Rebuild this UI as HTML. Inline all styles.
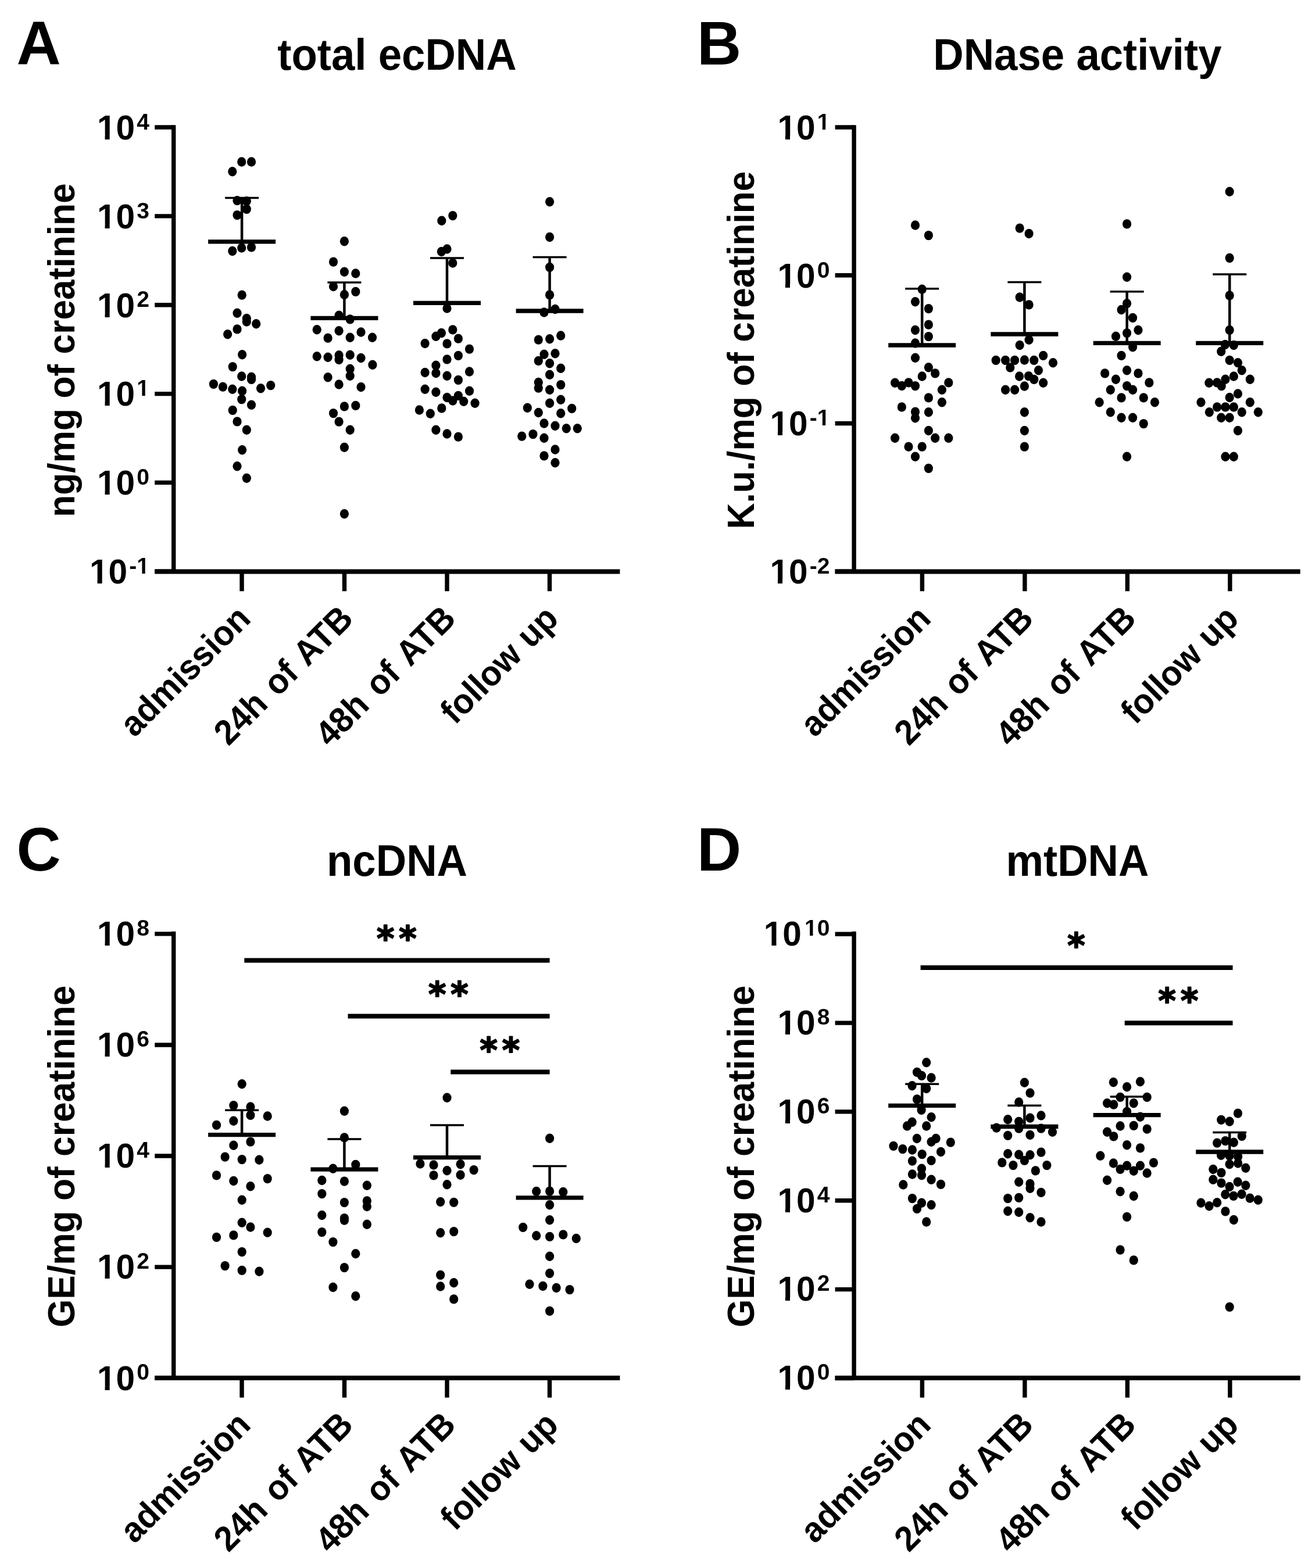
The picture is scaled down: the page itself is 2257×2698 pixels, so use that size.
<!DOCTYPE html>
<html lang="en"><head><meta charset="utf-8"><title>Figure</title>
<style>html,body{margin:0;padding:0;background:#fff}svg{display:block}text{font-family:"Liberation Sans",Arial,sans-serif;font-weight:bold;fill:#000}</style>
</head><body>
<svg width="2257" height="2698" viewBox="0 0 2257 2698">
<rect width="2257" height="2698" fill="#fff"/>
<text x="28.5" y="111.0" font-size="105.5">A</text>
<text transform="translate(683.0 119.5) scale(1 1.05)" font-size="72.6" text-anchor="middle">total ecDNA</text>
<path d="M298.7 215.3V987.0" stroke="#000" stroke-width="7.4" fill="none"/>
<path d="M266.2 983.6H1066.4" stroke="#000" stroke-width="8" fill="none"/>
<path d="M266.2 219.0H298.7M266.2 371.9H298.7M266.2 524.7H298.7M266.2 677.6H298.7M266.2 830.4H298.7M266.2 983.3H298.7M416.0 983.3V1017.3M592.5 983.3V1017.3M769.0 983.3V1017.3M945.5 983.3V1017.3" stroke="#000" stroke-width="7.4" fill="none"/>
<text x="167.0" y="239.8" font-size="58.5">10</text>
<text x="235.3" y="222.7" font-size="39.0">4</text>
<text x="167.0" y="392.7" font-size="58.5">10</text>
<text x="235.3" y="375.6" font-size="39.0">3</text>
<text x="167.0" y="545.5" font-size="58.5">10</text>
<text x="235.3" y="528.4" font-size="39.0">2</text>
<text x="167.0" y="698.4" font-size="58.5">10</text>
<text x="235.3" y="681.3" font-size="39.0">1</text>
<text x="167.0" y="851.2" font-size="58.5">10</text>
<text x="235.3" y="834.1" font-size="39.0">0</text>
<text x="154.0" y="1004.1" font-size="58.5">10</text>
<text x="222.3" y="987.0" font-size="39.0">-1</text>
<text transform="translate(128.2 602.5) rotate(-90) scale(1 1.04)" font-size="62.3" text-anchor="middle">ng/mg of creatinine</text>
<text transform="translate(434.0 1067.6) rotate(-45) scale(1 1.04)" font-size="58" text-anchor="end" style="word-spacing:0px">admission</text>
<text transform="translate(610.5 1067.6) rotate(-45) scale(1 1.04)" font-size="58" text-anchor="end" style="word-spacing:4px">24h of ATB</text>
<text transform="translate(787.0 1067.6) rotate(-45) scale(1 1.04)" font-size="58" text-anchor="end" style="word-spacing:5.5px">48h of ATB</text>
<text transform="translate(963.5 1067.6) rotate(-45) scale(1 1.04)" font-size="58" text-anchor="end" style="word-spacing:1.5px">follow up</text>
<ellipse cx="415.7" cy="278.5" rx="7.6" ry="8.2"/>
<ellipse cx="432.5" cy="278.5" rx="7.6" ry="8.2"/>
<ellipse cx="399.8" cy="295.3" rx="7.6" ry="8.2"/>
<ellipse cx="408.0" cy="345.1" rx="7.6" ry="8.2"/>
<ellipse cx="424.3" cy="346.1" rx="7.6" ry="8.2"/>
<ellipse cx="424.3" cy="359.9" rx="7.6" ry="8.2"/>
<ellipse cx="408.0" cy="370.1" rx="7.6" ry="8.2"/>
<ellipse cx="415.7" cy="426.5" rx="7.6" ry="8.2"/>
<ellipse cx="432.5" cy="425.4" rx="7.6" ry="8.2"/>
<ellipse cx="399.8" cy="432.0" rx="7.6" ry="8.2"/>
<ellipse cx="416.2" cy="507.6" rx="7.6" ry="8.2"/>
<ellipse cx="408.0" cy="538.7" rx="7.6" ry="8.2"/>
<ellipse cx="424.3" cy="548.0" rx="7.6" ry="8.2"/>
<ellipse cx="424.3" cy="553.5" rx="7.6" ry="8.2"/>
<ellipse cx="440.7" cy="557.2" rx="7.6" ry="8.2"/>
<ellipse cx="408.0" cy="566.4" rx="7.6" ry="8.2"/>
<ellipse cx="391.6" cy="575.2" rx="7.6" ry="8.2"/>
<ellipse cx="416.6" cy="610.2" rx="7.6" ry="8.2"/>
<ellipse cx="400.2" cy="631.1" rx="7.6" ry="8.2"/>
<ellipse cx="415.7" cy="647.5" rx="7.6" ry="8.2"/>
<ellipse cx="432.5" cy="648.8" rx="7.6" ry="8.2"/>
<ellipse cx="432.5" cy="652.9" rx="7.6" ry="8.2"/>
<ellipse cx="367.4" cy="660.9" rx="7.6" ry="8.2"/>
<ellipse cx="383.4" cy="665.6" rx="7.6" ry="8.2"/>
<ellipse cx="399.8" cy="669.7" rx="7.6" ry="8.2"/>
<ellipse cx="416.6" cy="672.7" rx="7.6" ry="8.2"/>
<ellipse cx="415.7" cy="687.1" rx="7.6" ry="8.2"/>
<ellipse cx="448.5" cy="668.2" rx="7.6" ry="8.2"/>
<ellipse cx="465.7" cy="663.1" rx="7.6" ry="8.2"/>
<ellipse cx="432.5" cy="696.7" rx="7.6" ry="8.2"/>
<ellipse cx="400.2" cy="705.9" rx="7.6" ry="8.2"/>
<ellipse cx="408.0" cy="725.4" rx="7.6" ry="8.2"/>
<ellipse cx="424.3" cy="739.7" rx="7.6" ry="8.2"/>
<ellipse cx="416.6" cy="774.2" rx="7.6" ry="8.2"/>
<ellipse cx="408.0" cy="802.2" rx="7.6" ry="8.2"/>
<ellipse cx="424.3" cy="822.7" rx="7.6" ry="8.2"/>
<ellipse cx="592.4" cy="415.2" rx="7.6" ry="8.2"/>
<ellipse cx="573.5" cy="450.6" rx="7.6" ry="8.2"/>
<ellipse cx="592.4" cy="467.8" rx="7.6" ry="8.2"/>
<ellipse cx="611.8" cy="470.5" rx="7.6" ry="8.2"/>
<ellipse cx="573.5" cy="493.0" rx="7.6" ry="8.2"/>
<ellipse cx="611.8" cy="501.9" rx="7.6" ry="8.2"/>
<ellipse cx="592.4" cy="507.0" rx="7.6" ry="8.2"/>
<ellipse cx="583.1" cy="542.8" rx="7.6" ry="8.2"/>
<ellipse cx="602.2" cy="549.4" rx="7.6" ry="8.2"/>
<ellipse cx="545.2" cy="567.2" rx="7.6" ry="8.2"/>
<ellipse cx="583.1" cy="569.3" rx="7.6" ry="8.2"/>
<ellipse cx="621.0" cy="571.5" rx="7.6" ry="8.2"/>
<ellipse cx="564.1" cy="581.6" rx="7.6" ry="8.2"/>
<ellipse cx="602.2" cy="580.7" rx="7.6" ry="8.2"/>
<ellipse cx="640.5" cy="580.7" rx="7.6" ry="8.2"/>
<ellipse cx="545.2" cy="613.3" rx="7.6" ry="8.2"/>
<ellipse cx="564.1" cy="614.8" rx="7.6" ry="8.2"/>
<ellipse cx="583.1" cy="611.3" rx="7.6" ry="8.2"/>
<ellipse cx="583.1" cy="618.9" rx="7.6" ry="8.2"/>
<ellipse cx="602.2" cy="610.7" rx="7.6" ry="8.2"/>
<ellipse cx="621.0" cy="616.0" rx="7.6" ry="8.2"/>
<ellipse cx="640.9" cy="627.7" rx="7.6" ry="8.2"/>
<ellipse cx="602.2" cy="634.8" rx="7.6" ry="8.2"/>
<ellipse cx="602.2" cy="646.7" rx="7.6" ry="8.2"/>
<ellipse cx="564.1" cy="649.2" rx="7.6" ry="8.2"/>
<ellipse cx="583.1" cy="661.5" rx="7.6" ry="8.2"/>
<ellipse cx="621.0" cy="666.0" rx="7.6" ry="8.2"/>
<ellipse cx="592.4" cy="699.4" rx="7.6" ry="8.2"/>
<ellipse cx="611.8" cy="697.9" rx="7.6" ry="8.2"/>
<ellipse cx="573.5" cy="711.1" rx="7.6" ry="8.2"/>
<ellipse cx="583.1" cy="725.6" rx="7.6" ry="8.2"/>
<ellipse cx="602.2" cy="739.7" rx="7.6" ry="8.2"/>
<ellipse cx="592.4" cy="769.7" rx="7.6" ry="8.2"/>
<ellipse cx="592.4" cy="884.2" rx="7.6" ry="8.2"/>
<ellipse cx="759.8" cy="379.7" rx="7.6" ry="8.2"/>
<ellipse cx="778.8" cy="371.1" rx="7.6" ry="8.2"/>
<ellipse cx="769.0" cy="428.5" rx="7.6" ry="8.2"/>
<ellipse cx="759.4" cy="433.0" rx="7.6" ry="8.2"/>
<ellipse cx="778.8" cy="452.5" rx="7.6" ry="8.2"/>
<ellipse cx="769.0" cy="530.5" rx="7.6" ry="8.2"/>
<ellipse cx="778.8" cy="567.4" rx="7.6" ry="8.2"/>
<ellipse cx="759.4" cy="573.0" rx="7.6" ry="8.2"/>
<ellipse cx="749.9" cy="578.7" rx="7.6" ry="8.2"/>
<ellipse cx="788.4" cy="582.6" rx="7.6" ry="8.2"/>
<ellipse cx="731.1" cy="591.0" rx="7.6" ry="8.2"/>
<ellipse cx="769.0" cy="591.4" rx="7.6" ry="8.2"/>
<ellipse cx="807.5" cy="600.6" rx="7.6" ry="8.2"/>
<ellipse cx="788.4" cy="611.9" rx="7.6" ry="8.2"/>
<ellipse cx="769.0" cy="618.4" rx="7.6" ry="8.2"/>
<ellipse cx="749.9" cy="628.7" rx="7.6" ry="8.2"/>
<ellipse cx="749.9" cy="642.0" rx="7.6" ry="8.2"/>
<ellipse cx="731.1" cy="641.0" rx="7.6" ry="8.2"/>
<ellipse cx="807.5" cy="639.5" rx="7.6" ry="8.2"/>
<ellipse cx="769.0" cy="646.7" rx="7.6" ry="8.2"/>
<ellipse cx="788.4" cy="653.9" rx="7.6" ry="8.2"/>
<ellipse cx="731.1" cy="669.7" rx="7.6" ry="8.2"/>
<ellipse cx="749.9" cy="674.8" rx="7.6" ry="8.2"/>
<ellipse cx="807.5" cy="672.7" rx="7.6" ry="8.2"/>
<ellipse cx="769.0" cy="684.0" rx="7.6" ry="8.2"/>
<ellipse cx="778.8" cy="689.5" rx="7.6" ry="8.2"/>
<ellipse cx="788.4" cy="680.9" rx="7.6" ry="8.2"/>
<ellipse cx="797.7" cy="690.8" rx="7.6" ry="8.2"/>
<ellipse cx="817.1" cy="693.8" rx="7.6" ry="8.2"/>
<ellipse cx="721.4" cy="705.5" rx="7.6" ry="8.2"/>
<ellipse cx="740.3" cy="711.7" rx="7.6" ry="8.2"/>
<ellipse cx="759.8" cy="702.4" rx="7.6" ry="8.2"/>
<ellipse cx="749.9" cy="739.7" rx="7.6" ry="8.2"/>
<ellipse cx="769.0" cy="746.5" rx="7.6" ry="8.2"/>
<ellipse cx="788.4" cy="751.6" rx="7.6" ry="8.2"/>
<ellipse cx="945.6" cy="347.2" rx="7.6" ry="8.2"/>
<ellipse cx="945.6" cy="408.0" rx="7.6" ry="8.2"/>
<ellipse cx="945.6" cy="459.9" rx="7.6" ry="8.2"/>
<ellipse cx="945.6" cy="507.4" rx="7.6" ry="8.2"/>
<ellipse cx="955.0" cy="532.0" rx="7.6" ry="8.2"/>
<ellipse cx="936.0" cy="537.5" rx="7.6" ry="8.2"/>
<ellipse cx="964.7" cy="577.5" rx="7.6" ry="8.2"/>
<ellipse cx="945.6" cy="583.2" rx="7.6" ry="8.2"/>
<ellipse cx="926.3" cy="584.6" rx="7.6" ry="8.2"/>
<ellipse cx="936.0" cy="609.8" rx="7.6" ry="8.2"/>
<ellipse cx="955.0" cy="608.2" rx="7.6" ry="8.2"/>
<ellipse cx="926.3" cy="620.9" rx="7.6" ry="8.2"/>
<ellipse cx="945.6" cy="625.2" rx="7.6" ry="8.2"/>
<ellipse cx="964.7" cy="633.8" rx="7.6" ry="8.2"/>
<ellipse cx="945.6" cy="644.7" rx="7.6" ry="8.2"/>
<ellipse cx="926.3" cy="658.0" rx="7.6" ry="8.2"/>
<ellipse cx="926.3" cy="667.6" rx="7.6" ry="8.2"/>
<ellipse cx="964.7" cy="662.1" rx="7.6" ry="8.2"/>
<ellipse cx="945.6" cy="670.7" rx="7.6" ry="8.2"/>
<ellipse cx="964.7" cy="687.7" rx="7.6" ry="8.2"/>
<ellipse cx="945.6" cy="693.8" rx="7.6" ry="8.2"/>
<ellipse cx="907.3" cy="701.8" rx="7.6" ry="8.2"/>
<ellipse cx="926.3" cy="710.0" rx="7.6" ry="8.2"/>
<ellipse cx="964.7" cy="711.3" rx="7.6" ry="8.2"/>
<ellipse cx="983.7" cy="702.9" rx="7.6" ry="8.2"/>
<ellipse cx="936.0" cy="728.5" rx="7.6" ry="8.2"/>
<ellipse cx="955.0" cy="732.8" rx="7.6" ry="8.2"/>
<ellipse cx="974.3" cy="737.3" rx="7.6" ry="8.2"/>
<ellipse cx="993.3" cy="737.3" rx="7.6" ry="8.2"/>
<ellipse cx="897.7" cy="750.6" rx="7.6" ry="8.2"/>
<ellipse cx="916.9" cy="747.1" rx="7.6" ry="8.2"/>
<ellipse cx="936.0" cy="753.7" rx="7.6" ry="8.2"/>
<ellipse cx="955.0" cy="773.5" rx="7.6" ry="8.2"/>
<ellipse cx="936.0" cy="784.4" rx="7.6" ry="8.2"/>
<ellipse cx="955.0" cy="796.3" rx="7.6" ry="8.2"/>
<path d="M358.1 415.8H474.1" stroke="#000" stroke-width="7.3" fill="none"/>
<path d="M416.1 415.8V340.4" stroke="#000" stroke-width="4.5" fill="none"/>
<path d="M387.1 340.4H445.1" stroke="#000" stroke-width="3.5" fill="none"/>
<path d="M534.4 547.3H650.4" stroke="#000" stroke-width="7.3" fill="none"/>
<path d="M592.4 547.3V485.9" stroke="#000" stroke-width="4.5" fill="none"/>
<path d="M563.4 485.9H621.4" stroke="#000" stroke-width="3.5" fill="none"/>
<path d="M711.0 521.3H827.0" stroke="#000" stroke-width="7.3" fill="none"/>
<path d="M769.0 521.3V443.9" stroke="#000" stroke-width="4.5" fill="none"/>
<path d="M740.0 443.9H798.0" stroke="#000" stroke-width="3.5" fill="none"/>
<path d="M887.6 535.0H1003.6" stroke="#000" stroke-width="7.3" fill="none"/>
<path d="M945.6 535.0V442.4" stroke="#000" stroke-width="4.5" fill="none"/>
<path d="M916.6 442.4H974.6" stroke="#000" stroke-width="3.5" fill="none"/>
<text x="1198.9" y="111.0" font-size="105.5">B</text>
<text transform="translate(1853.4 119.5) scale(1 1.05)" font-size="72.6" text-anchor="middle">DNase activity</text>
<path d="M1469.1 215.3V987.0" stroke="#000" stroke-width="7.4" fill="none"/>
<path d="M1436.6 983.6H2236.8" stroke="#000" stroke-width="8" fill="none"/>
<path d="M1436.6 219.0H1469.1M1436.6 473.8H1469.1M1436.6 728.5H1469.1M1436.6 983.3H1469.1M1586.4 983.3V1017.3M1762.9 983.3V1017.3M1939.4 983.3V1017.3M2115.9 983.3V1017.3" stroke="#000" stroke-width="7.4" fill="none"/>
<text x="1337.4" y="239.8" font-size="58.5">10</text>
<text x="1405.7" y="222.7" font-size="39.0">1</text>
<text x="1337.4" y="494.6" font-size="58.5">10</text>
<text x="1405.7" y="477.5" font-size="39.0">0</text>
<text x="1324.4" y="749.3" font-size="58.5">10</text>
<text x="1392.7" y="732.2" font-size="39.0">-1</text>
<text x="1324.4" y="1004.1" font-size="58.5">10</text>
<text x="1392.7" y="987.0" font-size="39.0">-2</text>
<text transform="translate(1297.0 602.5) rotate(-90) scale(1 1.04)" font-size="62.3" text-anchor="middle">K.u./mg of creatinine</text>
<text transform="translate(1604.4 1067.6) rotate(-45) scale(1 1.04)" font-size="58" text-anchor="end" style="word-spacing:0px">admission</text>
<text transform="translate(1780.9 1067.6) rotate(-45) scale(1 1.04)" font-size="58" text-anchor="end" style="word-spacing:4px">24h of ATB</text>
<text transform="translate(1957.4 1067.6) rotate(-45) scale(1 1.04)" font-size="58" text-anchor="end" style="word-spacing:5.5px">48h of ATB</text>
<text transform="translate(2133.9 1067.6) rotate(-45) scale(1 1.04)" font-size="58" text-anchor="end" style="word-spacing:1.5px">follow up</text>
<ellipse cx="1574.5" cy="387.5" rx="7.6" ry="8.2"/>
<ellipse cx="1597.4" cy="405.1" rx="7.6" ry="8.2"/>
<ellipse cx="1586.2" cy="497.7" rx="7.6" ry="8.2"/>
<ellipse cx="1574.5" cy="519.2" rx="7.6" ry="8.2"/>
<ellipse cx="1597.4" cy="531.1" rx="7.6" ry="8.2"/>
<ellipse cx="1597.4" cy="558.6" rx="7.6" ry="8.2"/>
<ellipse cx="1574.5" cy="568.0" rx="7.6" ry="8.2"/>
<ellipse cx="1597.4" cy="579.1" rx="7.6" ry="8.2"/>
<ellipse cx="1574.5" cy="590.5" rx="7.6" ry="8.2"/>
<ellipse cx="1574.5" cy="615.8" rx="7.6" ry="8.2"/>
<ellipse cx="1597.4" cy="632.2" rx="7.6" ry="8.2"/>
<ellipse cx="1608.7" cy="642.4" rx="7.6" ry="8.2"/>
<ellipse cx="1586.2" cy="647.5" rx="7.6" ry="8.2"/>
<ellipse cx="1539.6" cy="658.8" rx="7.6" ry="8.2"/>
<ellipse cx="1551.3" cy="663.9" rx="7.6" ry="8.2"/>
<ellipse cx="1563.0" cy="658.4" rx="7.6" ry="8.2"/>
<ellipse cx="1574.5" cy="664.1" rx="7.6" ry="8.2"/>
<ellipse cx="1631.8" cy="658.4" rx="7.6" ry="8.2"/>
<ellipse cx="1620.4" cy="670.7" rx="7.6" ry="8.2"/>
<ellipse cx="1597.4" cy="684.4" rx="7.6" ry="8.2"/>
<ellipse cx="1620.4" cy="692.2" rx="7.6" ry="8.2"/>
<ellipse cx="1551.3" cy="700.4" rx="7.6" ry="8.2"/>
<ellipse cx="1574.5" cy="708.6" rx="7.6" ry="8.2"/>
<ellipse cx="1574.5" cy="719.2" rx="7.6" ry="8.2"/>
<ellipse cx="1597.4" cy="709.2" rx="7.6" ry="8.2"/>
<ellipse cx="1597.4" cy="741.0" rx="7.6" ry="8.2"/>
<ellipse cx="1608.7" cy="753.7" rx="7.6" ry="8.2"/>
<ellipse cx="1631.8" cy="753.7" rx="7.6" ry="8.2"/>
<ellipse cx="1539.6" cy="753.7" rx="7.6" ry="8.2"/>
<ellipse cx="1563.0" cy="768.6" rx="7.6" ry="8.2"/>
<ellipse cx="1586.2" cy="768.6" rx="7.6" ry="8.2"/>
<ellipse cx="1574.5" cy="785.8" rx="7.6" ry="8.2"/>
<ellipse cx="1597.4" cy="805.9" rx="7.6" ry="8.2"/>
<ellipse cx="1754.2" cy="392.6" rx="7.6" ry="8.2"/>
<ellipse cx="1770.1" cy="402.0" rx="7.6" ry="8.2"/>
<ellipse cx="1754.2" cy="511.5" rx="7.6" ry="8.2"/>
<ellipse cx="1770.1" cy="524.4" rx="7.6" ry="8.2"/>
<ellipse cx="1770.1" cy="584.8" rx="7.6" ry="8.2"/>
<ellipse cx="1754.2" cy="594.0" rx="7.6" ry="8.2"/>
<ellipse cx="1713.2" cy="619.9" rx="7.6" ry="8.2"/>
<ellipse cx="1729.6" cy="619.9" rx="7.6" ry="8.2"/>
<ellipse cx="1745.6" cy="619.9" rx="7.6" ry="8.2"/>
<ellipse cx="1762.4" cy="619.5" rx="7.6" ry="8.2"/>
<ellipse cx="1778.8" cy="619.9" rx="7.6" ry="8.2"/>
<ellipse cx="1794.7" cy="611.9" rx="7.6" ry="8.2"/>
<ellipse cx="1811.5" cy="624.2" rx="7.6" ry="8.2"/>
<ellipse cx="1737.8" cy="632.4" rx="7.6" ry="8.2"/>
<ellipse cx="1786.5" cy="637.3" rx="7.6" ry="8.2"/>
<ellipse cx="1753.6" cy="647.5" rx="7.6" ry="8.2"/>
<ellipse cx="1769.5" cy="647.1" rx="7.6" ry="8.2"/>
<ellipse cx="1778.8" cy="652.9" rx="7.6" ry="8.2"/>
<ellipse cx="1794.7" cy="658.8" rx="7.6" ry="8.2"/>
<ellipse cx="1762.4" cy="664.5" rx="7.6" ry="8.2"/>
<ellipse cx="1729.6" cy="670.7" rx="7.6" ry="8.2"/>
<ellipse cx="1745.6" cy="670.7" rx="7.6" ry="8.2"/>
<ellipse cx="1762.4" cy="709.2" rx="7.6" ry="8.2"/>
<ellipse cx="1762.4" cy="741.0" rx="7.6" ry="8.2"/>
<ellipse cx="1762.4" cy="768.6" rx="7.6" ry="8.2"/>
<ellipse cx="1938.6" cy="385.4" rx="7.6" ry="8.2"/>
<ellipse cx="1938.6" cy="476.8" rx="7.6" ry="8.2"/>
<ellipse cx="1938.6" cy="522.3" rx="7.6" ry="8.2"/>
<ellipse cx="1929.1" cy="533.0" rx="7.6" ry="8.2"/>
<ellipse cx="1948.6" cy="546.9" rx="7.6" ry="8.2"/>
<ellipse cx="1958.0" cy="568.0" rx="7.6" ry="8.2"/>
<ellipse cx="1938.6" cy="573.1" rx="7.6" ry="8.2"/>
<ellipse cx="1919.5" cy="578.7" rx="7.6" ry="8.2"/>
<ellipse cx="1948.6" cy="597.1" rx="7.6" ry="8.2"/>
<ellipse cx="1929.1" cy="611.9" rx="7.6" ry="8.2"/>
<ellipse cx="1938.6" cy="637.3" rx="7.6" ry="8.2"/>
<ellipse cx="1900.7" cy="642.4" rx="7.6" ry="8.2"/>
<ellipse cx="1958.0" cy="642.4" rx="7.6" ry="8.2"/>
<ellipse cx="1919.5" cy="652.7" rx="7.6" ry="8.2"/>
<ellipse cx="1976.9" cy="658.4" rx="7.6" ry="8.2"/>
<ellipse cx="1938.6" cy="664.1" rx="7.6" ry="8.2"/>
<ellipse cx="1948.6" cy="670.7" rx="7.6" ry="8.2"/>
<ellipse cx="1910.3" cy="670.7" rx="7.6" ry="8.2"/>
<ellipse cx="1929.1" cy="684.4" rx="7.6" ry="8.2"/>
<ellipse cx="1967.3" cy="684.4" rx="7.6" ry="8.2"/>
<ellipse cx="1891.2" cy="692.2" rx="7.6" ry="8.2"/>
<ellipse cx="1986.5" cy="692.2" rx="7.6" ry="8.2"/>
<ellipse cx="1910.3" cy="709.2" rx="7.6" ry="8.2"/>
<ellipse cx="1929.1" cy="718.8" rx="7.6" ry="8.2"/>
<ellipse cx="1948.6" cy="718.8" rx="7.6" ry="8.2"/>
<ellipse cx="1967.3" cy="729.1" rx="7.6" ry="8.2"/>
<ellipse cx="1938.6" cy="785.8" rx="7.6" ry="8.2"/>
<ellipse cx="2115.2" cy="329.7" rx="7.6" ry="8.2"/>
<ellipse cx="2115.2" cy="444.0" rx="7.6" ry="8.2"/>
<ellipse cx="2115.2" cy="508.4" rx="7.6" ry="8.2"/>
<ellipse cx="2115.2" cy="568.0" rx="7.6" ry="8.2"/>
<ellipse cx="2107.6" cy="593.0" rx="7.6" ry="8.2"/>
<ellipse cx="2122.4" cy="594.0" rx="7.6" ry="8.2"/>
<ellipse cx="2100.8" cy="604.7" rx="7.6" ry="8.2"/>
<ellipse cx="2115.2" cy="619.9" rx="7.6" ry="8.2"/>
<ellipse cx="2129.5" cy="624.2" rx="7.6" ry="8.2"/>
<ellipse cx="2136.3" cy="637.3" rx="7.6" ry="8.2"/>
<ellipse cx="2122.4" cy="647.5" rx="7.6" ry="8.2"/>
<ellipse cx="2108.0" cy="652.7" rx="7.6" ry="8.2"/>
<ellipse cx="2150.4" cy="652.7" rx="7.6" ry="8.2"/>
<ellipse cx="2079.9" cy="658.8" rx="7.6" ry="8.2"/>
<ellipse cx="2093.7" cy="658.4" rx="7.6" ry="8.2"/>
<ellipse cx="2101.3" cy="664.1" rx="7.6" ry="8.2"/>
<ellipse cx="2129.5" cy="677.5" rx="7.6" ry="8.2"/>
<ellipse cx="2115.2" cy="684.0" rx="7.6" ry="8.2"/>
<ellipse cx="2066.0" cy="692.2" rx="7.6" ry="8.2"/>
<ellipse cx="2150.4" cy="692.2" rx="7.6" ry="8.2"/>
<ellipse cx="2093.7" cy="700.4" rx="7.6" ry="8.2"/>
<ellipse cx="2108.0" cy="700.4" rx="7.6" ry="8.2"/>
<ellipse cx="2122.4" cy="700.4" rx="7.6" ry="8.2"/>
<ellipse cx="2080.4" cy="709.2" rx="7.6" ry="8.2"/>
<ellipse cx="2136.3" cy="709.2" rx="7.6" ry="8.2"/>
<ellipse cx="2164.4" cy="709.2" rx="7.6" ry="8.2"/>
<ellipse cx="2100.8" cy="718.8" rx="7.6" ry="8.2"/>
<ellipse cx="2115.2" cy="718.8" rx="7.6" ry="8.2"/>
<ellipse cx="2129.5" cy="741.0" rx="7.6" ry="8.2"/>
<ellipse cx="2108.0" cy="785.8" rx="7.6" ry="8.2"/>
<ellipse cx="2122.4" cy="785.8" rx="7.6" ry="8.2"/>
<path d="M1528.2 594.0H1644.2" stroke="#000" stroke-width="7.3" fill="none"/>
<path d="M1586.2 594.0V496.7" stroke="#000" stroke-width="4.5" fill="none"/>
<path d="M1557.2 496.7H1615.2" stroke="#000" stroke-width="3.5" fill="none"/>
<path d="M1704.4 575.0H1820.4" stroke="#000" stroke-width="7.3" fill="none"/>
<path d="M1762.4 575.0V485.4" stroke="#000" stroke-width="4.5" fill="none"/>
<path d="M1733.4 485.4H1791.4" stroke="#000" stroke-width="3.5" fill="none"/>
<path d="M1880.7 590.3H1996.7" stroke="#000" stroke-width="7.3" fill="none"/>
<path d="M1938.7 590.3V501.8" stroke="#000" stroke-width="4.5" fill="none"/>
<path d="M1909.7 501.8H1967.7" stroke="#000" stroke-width="3.5" fill="none"/>
<path d="M2057.3 590.3H2173.3" stroke="#000" stroke-width="7.3" fill="none"/>
<path d="M2115.3 590.3V472.1" stroke="#000" stroke-width="4.5" fill="none"/>
<path d="M2086.3 472.1H2144.3" stroke="#000" stroke-width="3.5" fill="none"/>
<text x="28.5" y="1498.4" font-size="105.5">C</text>
<text transform="translate(683.0 1506.9) scale(1 1.05)" font-size="72.6" text-anchor="middle">ncDNA</text>
<path d="M298.7 1602.7V2374.4" stroke="#000" stroke-width="7.4" fill="none"/>
<path d="M266.2 2371.0H1066.4" stroke="#000" stroke-width="8" fill="none"/>
<path d="M266.2 1606.9H298.7M266.2 1798.0H298.7M266.2 1989.0H298.7M266.2 2180.1H298.7M266.2 2371.2H298.7M416.0 2370.7V2404.7M592.5 2370.7V2404.7M769.0 2370.7V2404.7M945.5 2370.7V2404.7" stroke="#000" stroke-width="7.4" fill="none"/>
<text x="167.0" y="1627.2" font-size="58.5">10</text>
<text x="235.3" y="1610.1" font-size="39.0">8</text>
<text x="167.0" y="1818.3" font-size="58.5">10</text>
<text x="235.3" y="1801.2" font-size="39.0">6</text>
<text x="167.0" y="2009.3" font-size="58.5">10</text>
<text x="235.3" y="1992.2" font-size="39.0">4</text>
<text x="167.0" y="2200.4" font-size="58.5">10</text>
<text x="235.3" y="2183.3" font-size="39.0">2</text>
<text x="167.0" y="2391.5" font-size="58.5">10</text>
<text x="235.3" y="2374.4" font-size="39.0">0</text>
<text transform="translate(128.2 1989.9) rotate(-90) scale(1 1.04)" font-size="62.3" text-anchor="middle">GE/mg of creatinine</text>
<text transform="translate(434.0 2455.0) rotate(-45) scale(1 1.04)" font-size="58" text-anchor="end" style="word-spacing:0px">admission</text>
<text transform="translate(610.5 2455.0) rotate(-45) scale(1 1.04)" font-size="58" text-anchor="end" style="word-spacing:4px">24h of ATB</text>
<text transform="translate(787.0 2455.0) rotate(-45) scale(1 1.04)" font-size="58" text-anchor="end" style="word-spacing:5.5px">48h of ATB</text>
<text transform="translate(963.5 2455.0) rotate(-45) scale(1 1.04)" font-size="58" text-anchor="end" style="word-spacing:1.5px">follow up</text>
<ellipse cx="416.2" cy="1865.2" rx="7.6" ry="8.2"/>
<ellipse cx="401.8" cy="1902.1" rx="7.6" ry="8.2"/>
<ellipse cx="430.9" cy="1904.5" rx="7.6" ry="8.2"/>
<ellipse cx="430.9" cy="1918.9" rx="7.6" ry="8.2"/>
<ellipse cx="460.2" cy="1920.5" rx="7.6" ry="8.2"/>
<ellipse cx="401.8" cy="1928.7" rx="7.6" ry="8.2"/>
<ellipse cx="372.5" cy="1935.9" rx="7.6" ry="8.2"/>
<ellipse cx="430.9" cy="1964.6" rx="7.6" ry="8.2"/>
<ellipse cx="401.8" cy="1970.7" rx="7.6" ry="8.2"/>
<ellipse cx="387.1" cy="1990.6" rx="7.6" ry="8.2"/>
<ellipse cx="416.2" cy="1995.1" rx="7.6" ry="8.2"/>
<ellipse cx="445.9" cy="1995.7" rx="7.6" ry="8.2"/>
<ellipse cx="372.5" cy="2022.4" rx="7.6" ry="8.2"/>
<ellipse cx="460.2" cy="2028.1" rx="7.6" ry="8.2"/>
<ellipse cx="401.8" cy="2032.0" rx="7.6" ry="8.2"/>
<ellipse cx="430.9" cy="2041.2" rx="7.6" ry="8.2"/>
<ellipse cx="416.2" cy="2064.8" rx="7.6" ry="8.2"/>
<ellipse cx="416.2" cy="2103.7" rx="7.6" ry="8.2"/>
<ellipse cx="430.9" cy="2111.5" rx="7.6" ry="8.2"/>
<ellipse cx="460.2" cy="2120.7" rx="7.6" ry="8.2"/>
<ellipse cx="401.8" cy="2125.4" rx="7.6" ry="8.2"/>
<ellipse cx="372.5" cy="2128.9" rx="7.6" ry="8.2"/>
<ellipse cx="416.2" cy="2154.1" rx="7.6" ry="8.2"/>
<ellipse cx="387.1" cy="2178.1" rx="7.6" ry="8.2"/>
<ellipse cx="416.2" cy="2185.9" rx="7.6" ry="8.2"/>
<ellipse cx="445.9" cy="2187.7" rx="7.6" ry="8.2"/>
<ellipse cx="592.4" cy="1911.7" rx="7.6" ry="8.2"/>
<ellipse cx="592.4" cy="1957.4" rx="7.6" ry="8.2"/>
<ellipse cx="611.8" cy="2003.9" rx="7.6" ry="8.2"/>
<ellipse cx="572.9" cy="2010.7" rx="7.6" ry="8.2"/>
<ellipse cx="553.8" cy="2031.0" rx="7.6" ry="8.2"/>
<ellipse cx="592.4" cy="2032.6" rx="7.6" ry="8.2"/>
<ellipse cx="631.3" cy="2039.8" rx="7.6" ry="8.2"/>
<ellipse cx="553.8" cy="2054.1" rx="7.6" ry="8.2"/>
<ellipse cx="592.4" cy="2069.1" rx="7.6" ry="8.2"/>
<ellipse cx="631.3" cy="2066.4" rx="7.6" ry="8.2"/>
<ellipse cx="631.3" cy="2076.0" rx="7.6" ry="8.2"/>
<ellipse cx="553.8" cy="2091.0" rx="7.6" ry="8.2"/>
<ellipse cx="592.4" cy="2096.1" rx="7.6" ry="8.2"/>
<ellipse cx="592.4" cy="2099.6" rx="7.6" ry="8.2"/>
<ellipse cx="631.3" cy="2106.8" rx="7.6" ry="8.2"/>
<ellipse cx="553.8" cy="2120.1" rx="7.6" ry="8.2"/>
<ellipse cx="572.9" cy="2137.1" rx="7.6" ry="8.2"/>
<ellipse cx="611.8" cy="2157.2" rx="7.6" ry="8.2"/>
<ellipse cx="592.4" cy="2181.1" rx="7.6" ry="8.2"/>
<ellipse cx="572.9" cy="2215.0" rx="7.6" ry="8.2"/>
<ellipse cx="611.8" cy="2230.3" rx="7.6" ry="8.2"/>
<ellipse cx="769.0" cy="1888.8" rx="7.6" ry="8.2"/>
<ellipse cx="722.9" cy="2002.5" rx="7.6" ry="8.2"/>
<ellipse cx="746.0" cy="2004.5" rx="7.6" ry="8.2"/>
<ellipse cx="792.1" cy="2003.3" rx="7.6" ry="8.2"/>
<ellipse cx="815.1" cy="2013.1" rx="7.6" ry="8.2"/>
<ellipse cx="769.0" cy="2014.2" rx="7.6" ry="8.2"/>
<ellipse cx="746.0" cy="2022.4" rx="7.6" ry="8.2"/>
<ellipse cx="792.1" cy="2021.7" rx="7.6" ry="8.2"/>
<ellipse cx="769.0" cy="2038.3" rx="7.6" ry="8.2"/>
<ellipse cx="757.7" cy="2068.0" rx="7.6" ry="8.2"/>
<ellipse cx="780.7" cy="2068.9" rx="7.6" ry="8.2"/>
<ellipse cx="757.7" cy="2121.3" rx="7.6" ry="8.2"/>
<ellipse cx="780.7" cy="2119.1" rx="7.6" ry="8.2"/>
<ellipse cx="757.7" cy="2193.9" rx="7.6" ry="8.2"/>
<ellipse cx="780.7" cy="2207.2" rx="7.6" ry="8.2"/>
<ellipse cx="757.7" cy="2213.5" rx="7.6" ry="8.2"/>
<ellipse cx="780.7" cy="2235.4" rx="7.6" ry="8.2"/>
<ellipse cx="945.6" cy="1958.8" rx="7.6" ry="8.2"/>
<ellipse cx="922.7" cy="2050.0" rx="7.6" ry="8.2"/>
<ellipse cx="945.6" cy="2049.6" rx="7.6" ry="8.2"/>
<ellipse cx="968.8" cy="2051.0" rx="7.6" ry="8.2"/>
<ellipse cx="945.6" cy="2073.2" rx="7.6" ry="8.2"/>
<ellipse cx="945.6" cy="2099.2" rx="7.6" ry="8.2"/>
<ellipse cx="899.7" cy="2111.9" rx="7.6" ry="8.2"/>
<ellipse cx="922.7" cy="2126.2" rx="7.6" ry="8.2"/>
<ellipse cx="945.6" cy="2127.9" rx="7.6" ry="8.2"/>
<ellipse cx="968.8" cy="2124.4" rx="7.6" ry="8.2"/>
<ellipse cx="991.3" cy="2131.0" rx="7.6" ry="8.2"/>
<ellipse cx="945.6" cy="2161.7" rx="7.6" ry="8.2"/>
<ellipse cx="945.6" cy="2191.0" rx="7.6" ry="8.2"/>
<ellipse cx="911.0" cy="2209.8" rx="7.6" ry="8.2"/>
<ellipse cx="933.9" cy="2212.9" rx="7.6" ry="8.2"/>
<ellipse cx="957.1" cy="2216.0" rx="7.6" ry="8.2"/>
<ellipse cx="980.0" cy="2219.1" rx="7.6" ry="8.2"/>
<ellipse cx="945.6" cy="2255.9" rx="7.6" ry="8.2"/>
<path d="M358.1 1952.7H474.1" stroke="#000" stroke-width="7.3" fill="none"/>
<path d="M416.1 1952.7V1910.3" stroke="#000" stroke-width="4.5" fill="none"/>
<path d="M387.1 1910.3H445.1" stroke="#000" stroke-width="3.5" fill="none"/>
<path d="M534.4 2012.1H650.4" stroke="#000" stroke-width="7.3" fill="none"/>
<path d="M592.4 2012.1V1959.9" stroke="#000" stroke-width="4.5" fill="none"/>
<path d="M563.4 1959.9H621.4" stroke="#000" stroke-width="3.5" fill="none"/>
<path d="M711.0 1991.6H827.0" stroke="#000" stroke-width="7.3" fill="none"/>
<path d="M769.0 1991.6V1935.9" stroke="#000" stroke-width="4.5" fill="none"/>
<path d="M740.0 1935.9H798.0" stroke="#000" stroke-width="3.5" fill="none"/>
<path d="M887.6 2060.9H1003.6" stroke="#000" stroke-width="7.3" fill="none"/>
<path d="M945.6 2060.9V2006.4" stroke="#000" stroke-width="4.5" fill="none"/>
<path d="M916.6 2006.4H974.6" stroke="#000" stroke-width="3.5" fill="none"/>
<path d="M420.3 1652.6H945.6" stroke="#000" stroke-width="8.0" fill="none"/>
<text x="647.9 686.2" y="1634.8" font-size="58" style="font-family:'DejaVu Sans','Liberation Sans',sans-serif" stroke="#000" stroke-width="2.1" stroke-linejoin="round">**</text>
<path d="M598.5 1748.6H945.6" stroke="#000" stroke-width="8.0" fill="none"/>
<text x="737.0 775.3" y="1730.8" font-size="58" style="font-family:'DejaVu Sans','Liberation Sans',sans-serif" stroke="#000" stroke-width="2.1" stroke-linejoin="round">**</text>
<path d="M775.3 1844.6H945.6" stroke="#000" stroke-width="8.0" fill="none"/>
<text x="825.4 863.7" y="1826.8" font-size="58" style="font-family:'DejaVu Sans','Liberation Sans',sans-serif" stroke="#000" stroke-width="2.1" stroke-linejoin="round">**</text>
<text x="1198.9" y="1498.4" font-size="105.5">D</text>
<text transform="translate(1853.4 1506.9) scale(1 1.05)" font-size="72.6" text-anchor="middle">mtDNA</text>
<path d="M1469.1 1602.7V2374.4" stroke="#000" stroke-width="7.4" fill="none"/>
<path d="M1436.6 2371.0H2236.8" stroke="#000" stroke-width="8" fill="none"/>
<path d="M1436.6 1607.2H1469.1M1436.6 1760.1H1469.1M1436.6 1912.9H1469.1M1436.6 2065.8H1469.1M1436.6 2218.6H1469.1M1436.6 2371.5H1469.1M1586.4 2370.7V2404.7M1762.9 2370.7V2404.7M1939.4 2370.7V2404.7M2115.9 2370.7V2404.7" stroke="#000" stroke-width="7.4" fill="none"/>
<text x="1313.8" y="1627.0" font-size="58.5">10</text>
<text x="1384.0" y="1609.9" font-size="39.0">10</text>
<text x="1337.4" y="1779.9" font-size="58.5">10</text>
<text x="1405.7" y="1762.8" font-size="39.0">8</text>
<text x="1337.4" y="1932.7" font-size="58.5">10</text>
<text x="1405.7" y="1915.6" font-size="39.0">6</text>
<text x="1337.4" y="2085.6" font-size="58.5">10</text>
<text x="1405.7" y="2068.5" font-size="39.0">4</text>
<text x="1337.4" y="2238.4" font-size="58.5">10</text>
<text x="1405.7" y="2221.3" font-size="39.0">2</text>
<text x="1337.4" y="2391.3" font-size="58.5">10</text>
<text x="1405.7" y="2374.2" font-size="39.0">0</text>
<text transform="translate(1296.9 1989.9) rotate(-90) scale(1 1.04)" font-size="62.3" text-anchor="middle">GE/mg of creatinine</text>
<text transform="translate(1604.4 2455.0) rotate(-45) scale(1 1.04)" font-size="58" text-anchor="end" style="word-spacing:0px">admission</text>
<text transform="translate(1780.9 2455.0) rotate(-45) scale(1 1.04)" font-size="58" text-anchor="end" style="word-spacing:4px">24h of ATB</text>
<text transform="translate(1957.4 2455.0) rotate(-45) scale(1 1.04)" font-size="58" text-anchor="end" style="word-spacing:5.5px">48h of ATB</text>
<text transform="translate(2133.9 2455.0) rotate(-45) scale(1 1.04)" font-size="58" text-anchor="end" style="word-spacing:1.5px">follow up</text>
<ellipse cx="1593.7" cy="1828.3" rx="7.6" ry="8.2"/>
<ellipse cx="1577.5" cy="1844.9" rx="7.6" ry="8.2"/>
<ellipse cx="1585.5" cy="1850.9" rx="7.6" ry="8.2"/>
<ellipse cx="1602.1" cy="1854.5" rx="7.6" ry="8.2"/>
<ellipse cx="1569.1" cy="1868.3" rx="7.6" ry="8.2"/>
<ellipse cx="1593.7" cy="1873.0" rx="7.6" ry="8.2"/>
<ellipse cx="1577.5" cy="1891.4" rx="7.6" ry="8.2"/>
<ellipse cx="1585.1" cy="1909.9" rx="7.6" ry="8.2"/>
<ellipse cx="1602.1" cy="1922.2" rx="7.6" ry="8.2"/>
<ellipse cx="1569.1" cy="1930.8" rx="7.6" ry="8.2"/>
<ellipse cx="1560.5" cy="1937.5" rx="7.6" ry="8.2"/>
<ellipse cx="1593.7" cy="1937.5" rx="7.6" ry="8.2"/>
<ellipse cx="1577.3" cy="1959.0" rx="7.6" ry="8.2"/>
<ellipse cx="1610.1" cy="1959.0" rx="7.6" ry="8.2"/>
<ellipse cx="1602.1" cy="1964.8" rx="7.6" ry="8.2"/>
<ellipse cx="1635.3" cy="1965.6" rx="7.6" ry="8.2"/>
<ellipse cx="1537.0" cy="1971.9" rx="7.6" ry="8.2"/>
<ellipse cx="1552.8" cy="1977.1" rx="7.6" ry="8.2"/>
<ellipse cx="1569.4" cy="1978.5" rx="7.6" ry="8.2"/>
<ellipse cx="1618.5" cy="1982.0" rx="7.6" ry="8.2"/>
<ellipse cx="1586.2" cy="1986.1" rx="7.6" ry="8.2"/>
<ellipse cx="1569.4" cy="1997.6" rx="7.6" ry="8.2"/>
<ellipse cx="1602.1" cy="1996.9" rx="7.6" ry="8.2"/>
<ellipse cx="1585.5" cy="2010.7" rx="7.6" ry="8.2"/>
<ellipse cx="1569.4" cy="2020.5" rx="7.6" ry="8.2"/>
<ellipse cx="1585.5" cy="2022.1" rx="7.6" ry="8.2"/>
<ellipse cx="1602.1" cy="2029.7" rx="7.6" ry="8.2"/>
<ellipse cx="1618.5" cy="2037.9" rx="7.6" ry="8.2"/>
<ellipse cx="1553.8" cy="2038.5" rx="7.6" ry="8.2"/>
<ellipse cx="1569.4" cy="2062.1" rx="7.6" ry="8.2"/>
<ellipse cx="1585.5" cy="2069.7" rx="7.6" ry="8.2"/>
<ellipse cx="1602.1" cy="2073.2" rx="7.6" ry="8.2"/>
<ellipse cx="1577.5" cy="2079.9" rx="7.6" ry="8.2"/>
<ellipse cx="1593.7" cy="2102.5" rx="7.6" ry="8.2"/>
<ellipse cx="1762.4" cy="1862.7" rx="7.6" ry="8.2"/>
<ellipse cx="1772.0" cy="1880.6" rx="7.6" ry="8.2"/>
<ellipse cx="1752.7" cy="1896.5" rx="7.6" ry="8.2"/>
<ellipse cx="1791.0" cy="1919.5" rx="7.6" ry="8.2"/>
<ellipse cx="1772.0" cy="1923.6" rx="7.6" ry="8.2"/>
<ellipse cx="1733.7" cy="1926.3" rx="7.6" ry="8.2"/>
<ellipse cx="1752.7" cy="1929.9" rx="7.6" ry="8.2"/>
<ellipse cx="1714.2" cy="1940.6" rx="7.6" ry="8.2"/>
<ellipse cx="1752.7" cy="1941.6" rx="7.6" ry="8.2"/>
<ellipse cx="1791.0" cy="1941.6" rx="7.6" ry="8.2"/>
<ellipse cx="1810.5" cy="1947.8" rx="7.6" ry="8.2"/>
<ellipse cx="1733.7" cy="1953.9" rx="7.6" ry="8.2"/>
<ellipse cx="1772.0" cy="1952.9" rx="7.6" ry="8.2"/>
<ellipse cx="1791.0" cy="1982.6" rx="7.6" ry="8.2"/>
<ellipse cx="1733.7" cy="1985.3" rx="7.6" ry="8.2"/>
<ellipse cx="1752.7" cy="1986.7" rx="7.6" ry="8.2"/>
<ellipse cx="1772.0" cy="1987.3" rx="7.6" ry="8.2"/>
<ellipse cx="1762.4" cy="1996.9" rx="7.6" ry="8.2"/>
<ellipse cx="1723.8" cy="2000.4" rx="7.6" ry="8.2"/>
<ellipse cx="1742.9" cy="2005.1" rx="7.6" ry="8.2"/>
<ellipse cx="1800.9" cy="2005.1" rx="7.6" ry="8.2"/>
<ellipse cx="1781.4" cy="2014.4" rx="7.6" ry="8.2"/>
<ellipse cx="1752.7" cy="2033.8" rx="7.6" ry="8.2"/>
<ellipse cx="1772.0" cy="2036.9" rx="7.6" ry="8.2"/>
<ellipse cx="1772.0" cy="2044.7" rx="7.6" ry="8.2"/>
<ellipse cx="1791.0" cy="2051.9" rx="7.6" ry="8.2"/>
<ellipse cx="1733.7" cy="2062.1" rx="7.6" ry="8.2"/>
<ellipse cx="1752.7" cy="2060.9" rx="7.6" ry="8.2"/>
<ellipse cx="1733.7" cy="2084.0" rx="7.6" ry="8.2"/>
<ellipse cx="1752.7" cy="2085.7" rx="7.6" ry="8.2"/>
<ellipse cx="1772.0" cy="2095.3" rx="7.6" ry="8.2"/>
<ellipse cx="1791.0" cy="2102.5" rx="7.6" ry="8.2"/>
<ellipse cx="1915.4" cy="1862.3" rx="7.6" ry="8.2"/>
<ellipse cx="1961.5" cy="1861.3" rx="7.6" ry="8.2"/>
<ellipse cx="1938.6" cy="1870.3" rx="7.6" ry="8.2"/>
<ellipse cx="1927.1" cy="1887.9" rx="7.6" ry="8.2"/>
<ellipse cx="1973.2" cy="1887.9" rx="7.6" ry="8.2"/>
<ellipse cx="1904.6" cy="1898.2" rx="7.6" ry="8.2"/>
<ellipse cx="1915.8" cy="1900.6" rx="7.6" ry="8.2"/>
<ellipse cx="1950.3" cy="1898.2" rx="7.6" ry="8.2"/>
<ellipse cx="1938.6" cy="1912.9" rx="7.6" ry="8.2"/>
<ellipse cx="1961.5" cy="1921.7" rx="7.6" ry="8.2"/>
<ellipse cx="1927.1" cy="1937.5" rx="7.6" ry="8.2"/>
<ellipse cx="1950.3" cy="1936.9" rx="7.6" ry="8.2"/>
<ellipse cx="1973.2" cy="1942.6" rx="7.6" ry="8.2"/>
<ellipse cx="1904.6" cy="1947.8" rx="7.6" ry="8.2"/>
<ellipse cx="1915.8" cy="1955.4" rx="7.6" ry="8.2"/>
<ellipse cx="1938.6" cy="1970.3" rx="7.6" ry="8.2"/>
<ellipse cx="1961.5" cy="1975.4" rx="7.6" ry="8.2"/>
<ellipse cx="1892.9" cy="1988.7" rx="7.6" ry="8.2"/>
<ellipse cx="1984.5" cy="2000.6" rx="7.6" ry="8.2"/>
<ellipse cx="1915.4" cy="2001.5" rx="7.6" ry="8.2"/>
<ellipse cx="1938.6" cy="2005.8" rx="7.6" ry="8.2"/>
<ellipse cx="1961.5" cy="2005.8" rx="7.6" ry="8.2"/>
<ellipse cx="1927.1" cy="2011.9" rx="7.6" ry="8.2"/>
<ellipse cx="1950.3" cy="2014.8" rx="7.6" ry="8.2"/>
<ellipse cx="1973.2" cy="2018.5" rx="7.6" ry="8.2"/>
<ellipse cx="1904.6" cy="2030.8" rx="7.6" ry="8.2"/>
<ellipse cx="1927.1" cy="2050.2" rx="7.6" ry="8.2"/>
<ellipse cx="1950.3" cy="2058.0" rx="7.6" ry="8.2"/>
<ellipse cx="1938.6" cy="2093.9" rx="7.6" ry="8.2"/>
<ellipse cx="1927.1" cy="2150.6" rx="7.6" ry="8.2"/>
<ellipse cx="1950.3" cy="2168.4" rx="7.6" ry="8.2"/>
<ellipse cx="2129.5" cy="1915.6" rx="7.6" ry="8.2"/>
<ellipse cx="2100.8" cy="1926.9" rx="7.6" ry="8.2"/>
<ellipse cx="2115.2" cy="1929.7" rx="7.6" ry="8.2"/>
<ellipse cx="2136.3" cy="1954.9" rx="7.6" ry="8.2"/>
<ellipse cx="2108.0" cy="1963.1" rx="7.6" ry="8.2"/>
<ellipse cx="2093.7" cy="1966.6" rx="7.6" ry="8.2"/>
<ellipse cx="2122.4" cy="1965.8" rx="7.6" ry="8.2"/>
<ellipse cx="2122.4" cy="2099.0" rx="7.6" ry="8.2"/>
<ellipse cx="2100.6" cy="1987.8" rx="7.6" ry="8.2"/>
<ellipse cx="2115.1" cy="1988.7" rx="7.6" ry="8.2"/>
<ellipse cx="2129.7" cy="1990.1" rx="7.6" ry="8.2"/>
<ellipse cx="2129.7" cy="2001.5" rx="7.6" ry="8.2"/>
<ellipse cx="2115.1" cy="2003.3" rx="7.6" ry="8.2"/>
<ellipse cx="2142.9" cy="2009.7" rx="7.6" ry="8.2"/>
<ellipse cx="2086.9" cy="2012.0" rx="7.6" ry="8.2"/>
<ellipse cx="2101.0" cy="2017.9" rx="7.6" ry="8.2"/>
<ellipse cx="2086.9" cy="2029.7" rx="7.6" ry="8.2"/>
<ellipse cx="2101.0" cy="2035.6" rx="7.6" ry="8.2"/>
<ellipse cx="2129.2" cy="2033.8" rx="7.6" ry="8.2"/>
<ellipse cx="2142.9" cy="2039.7" rx="7.6" ry="8.2"/>
<ellipse cx="2115.1" cy="2042.0" rx="7.6" ry="8.2"/>
<ellipse cx="2107.8" cy="2055.2" rx="7.6" ry="8.2"/>
<ellipse cx="2122.0" cy="2057.9" rx="7.6" ry="8.2"/>
<ellipse cx="2136.1" cy="2054.8" rx="7.6" ry="8.2"/>
<ellipse cx="2150.2" cy="2061.6" rx="7.6" ry="8.2"/>
<ellipse cx="2164.3" cy="2064.8" rx="7.6" ry="8.2"/>
<ellipse cx="2066.0" cy="2069.8" rx="7.6" ry="8.2"/>
<ellipse cx="2080.1" cy="2075.2" rx="7.6" ry="8.2"/>
<ellipse cx="2093.7" cy="2069.3" rx="7.6" ry="8.2"/>
<ellipse cx="2108.0" cy="2084.4" rx="7.6" ry="8.2"/>
<ellipse cx="2115.2" cy="2248.9" rx="7.6" ry="8.2"/>
<path d="M1528.2 1902.3H1644.2" stroke="#000" stroke-width="7.3" fill="none"/>
<path d="M1586.2 1902.3V1865.2" stroke="#000" stroke-width="4.5" fill="none"/>
<path d="M1557.2 1865.2H1615.2" stroke="#000" stroke-width="3.5" fill="none"/>
<path d="M1704.4 1938.5H1820.4" stroke="#000" stroke-width="7.3" fill="none"/>
<path d="M1762.4 1938.5V1902.3" stroke="#000" stroke-width="4.5" fill="none"/>
<path d="M1733.4 1902.3H1791.4" stroke="#000" stroke-width="3.5" fill="none"/>
<path d="M1880.7 1918.7H1996.7" stroke="#000" stroke-width="7.3" fill="none"/>
<path d="M1938.7 1918.7V1886.9" stroke="#000" stroke-width="4.5" fill="none"/>
<path d="M1909.7 1886.9H1967.7" stroke="#000" stroke-width="3.5" fill="none"/>
<path d="M2057.3 1982.0H2173.3" stroke="#000" stroke-width="7.3" fill="none"/>
<path d="M2115.3 1982.0V1948.4" stroke="#000" stroke-width="4.5" fill="none"/>
<path d="M2086.3 1948.4H2144.3" stroke="#000" stroke-width="3.5" fill="none"/>
<path d="M1583.6 1665.0H2120.6" stroke="#000" stroke-width="8.0" fill="none"/>
<text x="1836.2" y="1647.2" font-size="58" style="font-family:'DejaVu Sans','Liberation Sans',sans-serif" stroke="#000" stroke-width="2.1" stroke-linejoin="round">*</text>
<path d="M1934.7 1760.2H2120.6" stroke="#000" stroke-width="8.0" fill="none"/>
<text x="1992.6 2030.9" y="1742.4" font-size="58" style="font-family:'DejaVu Sans','Liberation Sans',sans-serif" stroke="#000" stroke-width="2.1" stroke-linejoin="round">**</text>
<g><rect x="169.30" y="233.25" width="11.23" height="7.31" fill="#fff"/><rect x="188.61" y="233.25" width="9.95" height="7.31" fill="#fff"/><rect x="169.30" y="386.11" width="11.23" height="7.31" fill="#fff"/><rect x="188.61" y="386.11" width="9.95" height="7.31" fill="#fff"/><rect x="169.30" y="538.97" width="11.23" height="7.31" fill="#fff"/><rect x="188.61" y="538.97" width="9.95" height="7.31" fill="#fff"/><rect x="169.30" y="691.83" width="11.23" height="7.31" fill="#fff"/><rect x="188.61" y="691.83" width="9.95" height="7.31" fill="#fff"/><rect x="236.88" y="676.91" width="7.49" height="4.88" fill="#fff"/><rect x="249.75" y="676.91" width="6.63" height="4.88" fill="#fff"/><rect x="169.30" y="844.69" width="11.23" height="7.31" fill="#fff"/><rect x="188.61" y="844.69" width="9.95" height="7.31" fill="#fff"/><rect x="156.32" y="997.55" width="11.23" height="7.31" fill="#fff"/><rect x="175.62" y="997.55" width="9.95" height="7.31" fill="#fff"/><rect x="236.88" y="982.63" width="7.49" height="4.88" fill="#fff"/><rect x="249.75" y="982.63" width="6.63" height="4.88" fill="#fff"/><rect x="1339.70" y="233.25" width="11.23" height="7.31" fill="#fff"/><rect x="1359.01" y="233.25" width="9.95" height="7.31" fill="#fff"/><rect x="1407.28" y="218.33" width="7.49" height="4.88" fill="#fff"/><rect x="1420.15" y="218.33" width="6.63" height="4.88" fill="#fff"/><rect x="1339.70" y="488.02" width="11.23" height="7.31" fill="#fff"/><rect x="1359.01" y="488.02" width="9.95" height="7.31" fill="#fff"/><rect x="1326.72" y="742.79" width="11.23" height="7.31" fill="#fff"/><rect x="1346.02" y="742.79" width="9.95" height="7.31" fill="#fff"/><rect x="1407.28" y="727.87" width="7.49" height="4.88" fill="#fff"/><rect x="1420.15" y="727.87" width="6.63" height="4.88" fill="#fff"/><rect x="1326.72" y="997.56" width="11.23" height="7.31" fill="#fff"/><rect x="1346.02" y="997.56" width="9.95" height="7.31" fill="#fff"/><rect x="169.30" y="1620.65" width="11.23" height="7.31" fill="#fff"/><rect x="188.61" y="1620.65" width="9.95" height="7.31" fill="#fff"/><rect x="169.30" y="1811.72" width="11.23" height="7.31" fill="#fff"/><rect x="188.61" y="1811.72" width="9.95" height="7.31" fill="#fff"/><rect x="169.30" y="2002.79" width="11.23" height="7.31" fill="#fff"/><rect x="188.61" y="2002.79" width="9.95" height="7.31" fill="#fff"/><rect x="169.30" y="2193.86" width="11.23" height="7.31" fill="#fff"/><rect x="188.61" y="2193.86" width="9.95" height="7.31" fill="#fff"/><rect x="169.30" y="2384.93" width="11.23" height="7.31" fill="#fff"/><rect x="188.61" y="2384.93" width="9.95" height="7.31" fill="#fff"/><rect x="1316.17" y="1620.45" width="11.23" height="7.31" fill="#fff"/><rect x="1335.48" y="1620.45" width="9.95" height="7.31" fill="#fff"/><rect x="1385.59" y="1605.53" width="7.49" height="4.88" fill="#fff"/><rect x="1398.46" y="1605.53" width="6.63" height="4.88" fill="#fff"/><rect x="1339.70" y="1773.31" width="11.23" height="7.31" fill="#fff"/><rect x="1359.01" y="1773.31" width="9.95" height="7.31" fill="#fff"/><rect x="1339.70" y="1926.17" width="11.23" height="7.31" fill="#fff"/><rect x="1359.01" y="1926.17" width="9.95" height="7.31" fill="#fff"/><rect x="1339.70" y="2079.03" width="11.23" height="7.31" fill="#fff"/><rect x="1359.01" y="2079.03" width="9.95" height="7.31" fill="#fff"/><rect x="1339.70" y="2231.89" width="11.23" height="7.31" fill="#fff"/><rect x="1359.01" y="2231.89" width="9.95" height="7.31" fill="#fff"/><rect x="1339.70" y="2384.75" width="11.23" height="7.31" fill="#fff"/><rect x="1359.01" y="2384.75" width="9.95" height="7.31" fill="#fff"/></g>
</svg>
</body></html>
